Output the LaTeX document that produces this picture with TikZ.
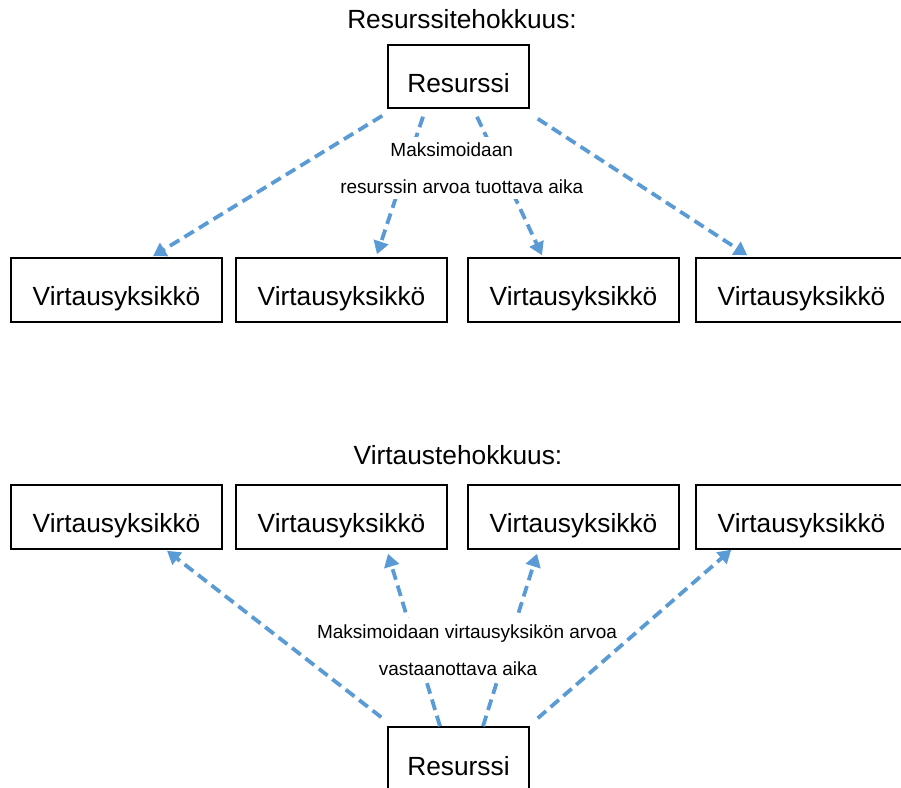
\documentclass[tikz,border=0pt]{standalone}
\usepackage{fontspec}
\setmainfont{Liberation Sans}
\usetikzlibrary{arrows.meta,calc}
\definecolor{arrowblue}{HTML}{5B9BD5}
\begin{document}
\begin{tikzpicture}[x=1pt,y=1pt,
  box/.style={draw=black,line width=1.5pt,minimum width=211pt,minimum height=64pt,inner sep=0pt,
    text height=32pt,text depth=0pt,font=\fontsize{26.3}{30}\selectfont},
  resbox/.style={box,minimum width=141pt,minimum height=63pt,text height=33pt},
  title/.style={anchor=base,inner sep=0pt,font=\fontsize{26.3}{30}\selectfont},
  lbl/.style={fill=white,align=center,anchor=base,inner xsep=3pt,inner ysep=6pt,font=\fontsize{19}{37}\selectfont},
  flow/.style={draw=arrowblue,line width=3.8pt,dash pattern=on 11pt off 6pt,
    -{Triangle[length=13pt,width=15pt]}}]
\useasboundingbox (0,0) rectangle (901,787);
% ---------- top part ----------
\node[title] (t1) at (462,758) {Resurssitehokkuus:};
\node[resbox] (r1) at (458.5,710.5) {Resurssi};
\node[box] (v1) at (116.5,497) {Virtausyksikkö};
\node[box] (v2) at (341.5,497) {Virtausyksikkö};
\node[box] (v3) at (573.5,497) {Virtausyksikkö};
\node[box] (v4) at (801.5,497) {Virtausyksikkö};
\draw[flow] ($(r1.south)+(-35.5,-8)$) -- ($(v2.north)+(35.5,3)$);
\draw[flow] ($(r1.south)+(18.5,-8)$) -- ($(v3.north)+(-31.5,2)$);
\node[lbl] (l1) at (461.7,593.7) {Maksimoidaan\kern20pt\\resurssin arvoa tuottava aika};
\draw[flow] ($(r1.south west)+(-5,-7)$) -- ($(v1.north)+(36.5,1)$);
\draw[flow] ($(r1.south east)+(8,-10)$) -- ($(v4.north west)+(52,2)$);
% ---------- bottom part ----------
\node[title] (t2) at (458,322.7) {Virtaustehokkuus:};
\node[box] (w1) at (116.5,270) {Virtausyksikkö};
\node[box] (w2) at (341.5,270) {Virtausyksikkö};
\node[box] (w3) at (573.5,270) {Virtausyksikkö};
\node[box] (w4) at (801.5,270) {Virtausyksikkö};
\node[resbox] (r2) at (458.5,28.5) {Resurssi};
\draw[flow] ($(r2.north)+(-18.5,0)$) -- ($(w2.south)+(46.5,-4)$);
\draw[flow] ($(r2.north)+(24.5,0)$) -- ($(w3.south)+(-36.5,-4)$);
\node[lbl] (l2) at (467,112) {Maksimoidaan virtausyksikön arvoa\\vastaanottava aika\kern18pt};
\draw[flow] ($(r2.north west)+(-6,9)$) -- ($(w1.south)+(50.5,-1)$);
\draw[flow] ($(r2.north east)+(8,8)$) -- ($(w4.south west)+(36,0)$);
\end{tikzpicture}
\end{document}
